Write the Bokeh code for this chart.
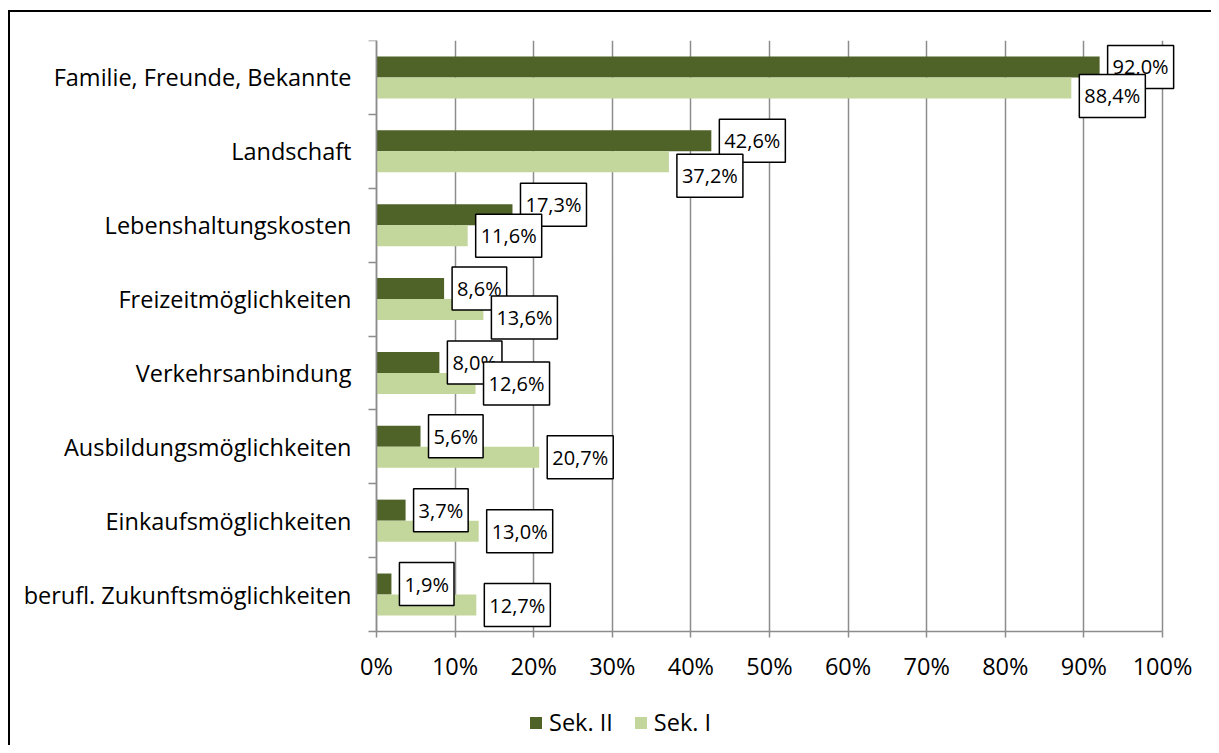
from bokeh.plotting import figure
from bokeh.models import (Range1d, FixedTicker, PrintfTickFormatter, Label, Legend,
                          LegendItem, ColumnDataSource)
from bokeh.embed import file_html
from bokeh.resources import INLINE

categories = ["Familie, Freunde, Bekannte", "Landschaft", "Lebenshaltungskosten",
              "Freizeitmöglichkeiten", "Verkehrsanbindung", "Ausbildungsmöglichkeiten",
              "Einkaufsmöglichkeiten", "berufl. Zukunftsmöglichkeiten"]
sek2 = [92.0, 42.6, 17.3, 8.6, 8.0, 5.6, 3.7, 1.9]
sek1 = [88.4, 37.2, 11.6, 13.6, 12.6, 20.7, 13.0, 12.7]
x_ticks = [0, 10, 20, 30, 40, 50, 60, 70, 80, 90, 100]
series_names = ["Sek. II", "Sek. I"]

# label vertical nudges (pixels, downward) to avoid overlaps, as in the reference
nudge2 = [0, 0, -10, 0, 0, 0, 0, 0]
nudge1 = [8, 14, 0, 8, 0, 0, 0, 0]

DARK = "#4F6228"
LIGHT = "#C3D69B"
GRID = "#8C8C8C"
FONT = "Open Sans"
FS = "23.5px"
LFS = "20px"

n = len(categories)
centers = [n - i - 0.5 for i in range(n)]
bh = 0.285

W, H = 1211, 745
# The frame covers the whole canvas below the top margin so that nothing
# (tick labels, data labels, legend) is clipped; both axes are pinned at 0.
px_per_pct = 786 / 100
x_min = -376 / px_per_pct
x_max = x_min + W / px_per_pct
y_min = -(745 - 631) / (591 / n)
p = figure(width=W, height=H, output_backend="svg", toolbar_location=None,
           x_range=Range1d(x_min, x_max), y_range=Range1d(y_min, n),
           min_border_left=0, min_border_right=0, min_border_top=40, min_border_bottom=0)
p.outline_line_color = None
p.background_fill_color = None
p.border_fill_color = None
# chart-area border (top and left edges, as in the reference)
p.styles = {"box-shadow": "inset 8px 10px 0 0 white, inset 10px 12px 0 0 black"}

src = ColumnDataSource(dict(y2=[c + bh / 2 for c in centers], y1=[c - bh / 2 for c in centers],
                            v2=sek2, v1=sek1))
r2 = p.hbar(y="y2", right="v2", left=0, height=bh, source=src, fill_color=DARK, line_color=None)
r1 = p.hbar(y="y1", right="v1", left=0, height=bh, source=src, fill_color=LIGHT, line_color=None)

# axes
p.xaxis.fixed_location = 0
p.xaxis.bounds = (0, 100)
p.xaxis.ticker = FixedTicker(ticks=x_ticks)
p.xaxis.formatter = PrintfTickFormatter(format="%d%%")
p.xaxis.axis_line_color = GRID
p.xaxis.axis_line_width = 1.5
p.xaxis.major_tick_line_color = GRID
p.xaxis.major_tick_line_width = 1.5
p.xaxis.major_tick_in = 0
p.xaxis.major_tick_out = 6
p.xaxis.minor_tick_line_color = None
p.xaxis.major_label_standoff = 12
p.xaxis.major_label_text_font = FONT
p.xaxis.major_label_text_font_size = FS
p.xaxis.major_label_text_color = "black"

p.yaxis.fixed_location = 0
p.yaxis.bounds = (0, n)
p.yaxis.ticker = FixedTicker(ticks=centers, minor_ticks=list(range(n + 1)))
p.yaxis.major_label_overrides = {c: categories[i] for i, c in enumerate(centers)}
p.yaxis.axis_line_color = GRID
p.yaxis.axis_line_width = 1.5
p.yaxis.major_tick_line_color = None
p.yaxis.major_tick_in = 0
p.yaxis.major_tick_out = 0
p.yaxis.minor_tick_line_color = GRID
p.yaxis.minor_tick_line_width = 1.5
p.yaxis.minor_tick_in = 0
p.yaxis.minor_tick_out = 8
p.yaxis.major_label_standoff = 17
p.yaxis.major_label_text_font = FONT
p.yaxis.major_label_text_font_size = FS
p.yaxis.major_label_text_color = "black"

p.xgrid.ticker = FixedTicker(ticks=x_ticks)
p.xgrid.cross_bounds = (0, n)
p.xgrid.grid_line_color = GRID
p.xgrid.grid_line_width = 1.5
p.ygrid.grid_line_color = None

# data labels
def fmt(v):
    return ("%.1f" % v).replace(".", ",") + "%"

for vals, ys, nud in ((sek2, src.data["y2"], nudge2), (sek1, src.data["y1"], nudge1)):
    for v, y, d in zip(vals, ys, nud):
        p.add_layout(Label(x=v, y=y, text=fmt(v), x_offset=8, y_offset=-d,
                           text_align="left", text_baseline="middle",
                           text_font=FONT, text_font_size=LFS, text_color="black",
                           background_fill_color="white", border_line_color="black",
                           border_line_width=1.5, padding=(5, 8)))

legend = Legend(items=[LegendItem(label=series_names[0], renderers=[r2]),
                       LegendItem(label=series_names[1], renderers=[r1])],
                orientation="horizontal", location=(528, 7),
                label_text_font=FONT, label_text_font_size=FS, label_text_color="black",
                glyph_width=15, glyph_height=15, spacing=20, label_standoff=6,
                border_line_color=None, background_fill_alpha=0, padding=0, margin=0)
p.add_layout(legend, "center")

open("out.html", "w").write(file_html(p, INLINE))
